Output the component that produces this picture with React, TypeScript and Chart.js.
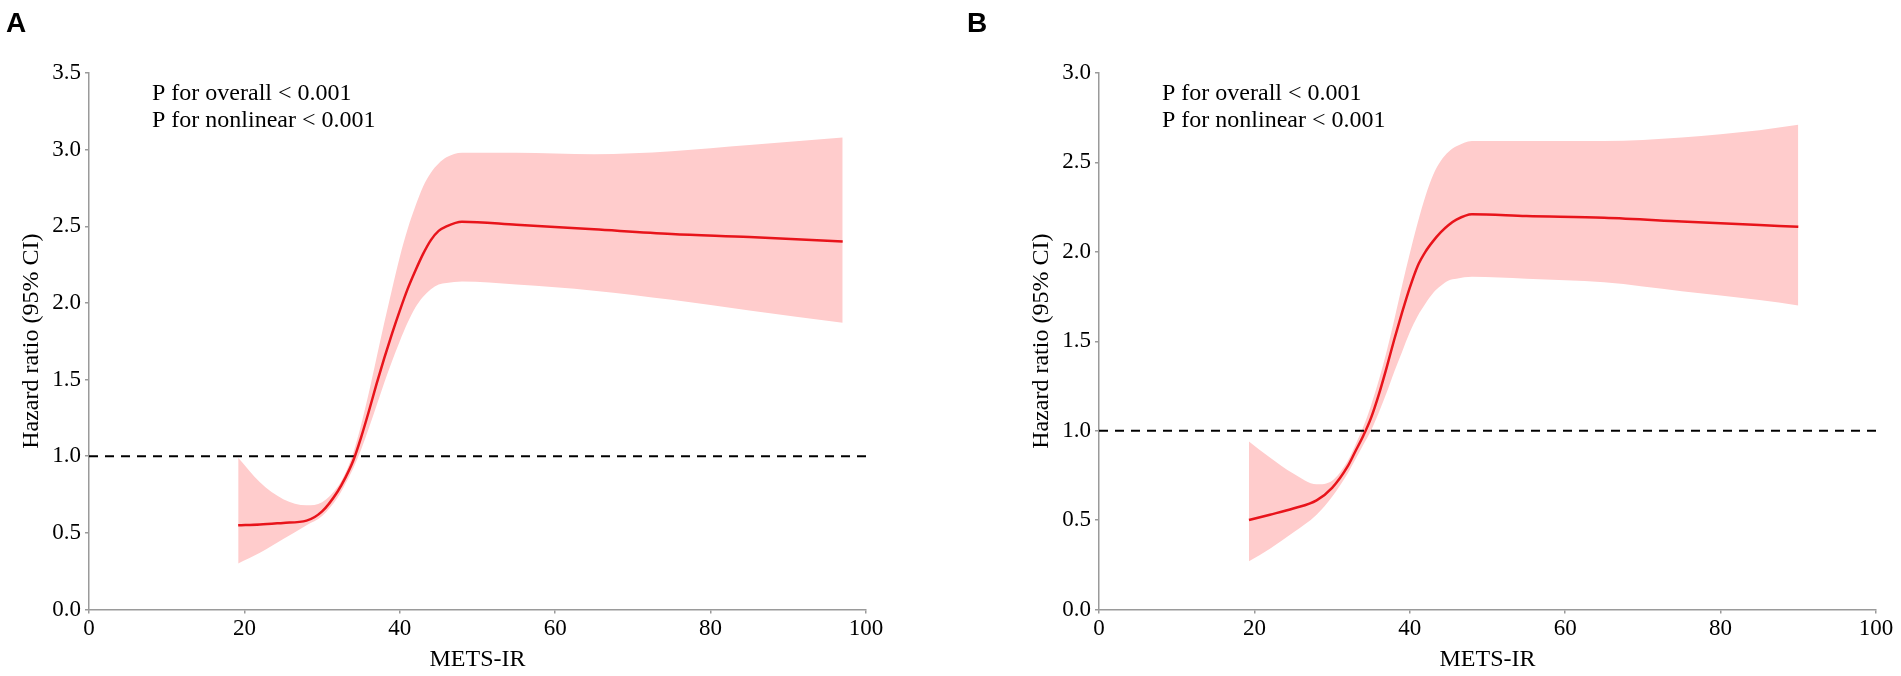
import React, { useEffect, useRef } from 'react';
import { Chart, registerables } from 'chart.js';

Chart.register(...registerables);

// Panel A: restricted cubic spline, METS-IR vs hazard ratio
const xA = [19.2, 22, 25, 28, 30, 32, 33, 34, 35, 36, 37, 38, 39, 40, 41, 42, 43, 44, 45, 46, 48, 55, 65, 75, 85, 97];
const hrA = [0.55, 0.555, 0.565, 0.58, 0.64, 0.77, 0.86, 0.97, 1.12, 1.29, 1.47, 1.64, 1.8, 1.95, 2.09, 2.21, 2.32, 2.41, 2.47, 2.5, 2.53, 2.51, 2.48, 2.45, 2.43, 2.4];
const upperA = [0.99, 0.83, 0.72, 0.68, 0.7, 0.8, 0.89, 1.02, 1.2, 1.41, 1.64, 1.87, 2.09, 2.3, 2.48, 2.63, 2.76, 2.85, 2.91, 2.95, 2.98, 2.98, 2.97, 2.99, 3.03, 3.08];
const lowerA = [0.3, 0.37, 0.46, 0.55, 0.61, 0.73, 0.82, 0.92, 1.04, 1.18, 1.33, 1.48, 1.62, 1.75, 1.87, 1.97, 2.04, 2.09, 2.12, 2.13, 2.14, 2.12, 2.08, 2.02, 1.95, 1.87];

// Panel B
const xB = [19.3, 22, 25, 28, 30, 32, 33, 34, 35, 36, 37, 38, 39, 40, 41, 42, 43, 44, 45, 46, 48, 55, 65, 75, 85, 90];
const hrB = [0.5, 0.53, 0.565, 0.61, 0.68, 0.8, 0.885, 0.97, 1.07, 1.2, 1.35, 1.51, 1.66, 1.8, 1.92, 2.0, 2.06, 2.11, 2.15, 2.18, 2.21, 2.2, 2.19, 2.17, 2.15, 2.14];
const upperB = [0.94, 0.85, 0.76, 0.7, 0.72, 0.83, 0.92, 1.02, 1.14, 1.28, 1.44, 1.62, 1.81, 1.99, 2.16, 2.31, 2.43, 2.51, 2.56, 2.59, 2.62, 2.62, 2.62, 2.64, 2.68, 2.71];
const lowerB = [0.27, 0.34, 0.43, 0.53, 0.63, 0.76, 0.84, 0.92, 1.0, 1.1, 1.21, 1.33, 1.44, 1.55, 1.64, 1.71, 1.77, 1.81, 1.84, 1.85, 1.86, 1.85, 1.83, 1.78, 1.73, 1.7];

const xRange = [0, 100];
const xStep = 20;
const yMaxA = 3.5;
const yMaxB = 3.0;
const yStep = 0.5;
const refHR = 1;

const pLines = ['P for overall < 0.001', 'P for nonlinear < 0.001'];
const xTitle = 'METS-IR';
const yTitle = 'Hazard ratio (95% CI)';

const SERIF = '"Liberation Serif", "Times New Roman", serif';
const RED = '#E8141B';
const PINK = '#FFCCCC';
const AXIS = '#9A9A9A';

interface PanelProps {
  left: number;
  width: number;
  xs: number[];
  hr: number[];
  upper: number[];
  lower: number[];
  yMax: number;
}

const toPts = (xs: number[], ys: number[]) => xs.map((x, i) => ({ x, y: ys[i] }));

const Panel: React.FC<PanelProps> = ({ left, width, xs, hr, upper, lower, yMax }) => {
  const canvasRef = useRef<HTMLCanvasElement>(null);
  const chartRef = useRef<Chart | null>(null);

  useEffect(() => {
    if (!canvasRef.current) return;
    if (chartRef.current) chartRef.current.destroy();

    // writes the two P-value lines in the top-left of the plot
    const pText = {
      id: 'pText',
      afterDraw(chart: any) {
        const { ctx, chartArea } = chart;
        ctx.save();
        ctx.font = `24px ${SERIF}`;
        ctx.fillStyle = '#000';
        ctx.textBaseline = 'alphabetic';
        pLines.forEach((t, i) => ctx.fillText(t, chartArea.left + 63, chartArea.top + 27 + i * 27));
        ctx.restore();
      },
    };

    chartRef.current = new Chart(canvasRef.current, {
      type: 'line',
      data: {
        datasets: [
          {
            label: 'HR',
            data: toPts(xs, hr),
            borderColor: RED,
            borderWidth: 2.5,
            pointRadius: 0,
            cubicInterpolationMode: 'monotone',
            fill: false,
            order: 0,
          },
          {
            label: 'ref',
            data: [{ x: xRange[0], y: refHR }, { x: xRange[1], y: refHR }],
            borderColor: '#000',
            borderWidth: 2,
            borderDash: [9, 7],
            pointRadius: 0,
            fill: false,
            order: 1,
          },
          {
            label: 'upper',
            data: toPts(xs, upper),
            borderWidth: 0,
            borderColor: 'rgba(0,0,0,0)',
            backgroundColor: PINK,
            pointRadius: 0,
            cubicInterpolationMode: 'monotone',
            fill: '+1',
            order: 2,
          },
          {
            label: 'lower',
            data: toPts(xs, lower),
            borderWidth: 0,
            borderColor: 'rgba(0,0,0,0)',
            pointRadius: 0,
            cubicInterpolationMode: 'monotone',
            fill: false,
            order: 3,
          },
        ],
      },
      options: {
        responsive: false,
        animation: false,
        events: [],
        layout: { padding: { left: 0, top: 73, right: width - 89 - 777, bottom: 0 } },
        plugins: { legend: { display: false }, tooltip: { enabled: false } },
        scales: {
          x: {
            type: 'linear',
            min: xRange[0],
            max: xRange[1],
            afterFit: (s: any) => { s.height = 66.5; },
            ticks: { stepSize: xStep, color: '#000', font: { family: SERIF, size: 23 }, padding: 2, maxRotation: 0 },
            grid: { drawOnChartArea: false, drawTicks: true, tickLength: 4, color: AXIS, lineWidth: 1.5 },
            border: { display: true, color: AXIS, width: 1.5 },
            title: { display: true, text: xTitle, color: '#000', font: { family: SERIF, size: 24 }, padding: { top: 0, bottom: 2 } },
          },
          y: {
            type: 'linear',
            min: 0,
            max: yMax,
            afterFit: (s: any) => { s.width = 89; },
            ticks: {
              stepSize: yStep,
              color: '#000',
              font: { family: SERIF, size: 23 },
              padding: 4,
              callback: (v: any) => Number(v).toFixed(1),
            },
            grid: { drawOnChartArea: false, drawTicks: true, tickLength: 4, color: AXIS, lineWidth: 1.5 },
            border: { display: true, color: AXIS, width: 1.5 },
            title: { display: true, text: yTitle, color: '#000', font: { family: SERIF, size: 24 }, padding: { top: 17, bottom: 0 } },
          },
        },
      },
      plugins: [pText],
    } as any);

    return () => {
      if (chartRef.current) {
        chartRef.current.destroy();
        chartRef.current = null;
      }
    };
  }, [left, width, xs, hr, upper, lower, yMax]);

  return (
    <canvas
      ref={canvasRef}
      width={width}
      height={676}
      style={{ position: 'absolute', left, top: 0, width, height: 676 }}
    />
  );
};

const letterStyle: React.CSSProperties = {
  position: 'absolute',
  top: 9,
  fontFamily: '"Liberation Sans", Arial, sans-serif',
  fontWeight: 'bold',
  fontSize: 28,
  lineHeight: '28px',
  color: '#000',
};

export default function App() {
  return (
    <div style={{ position: 'fixed', left: 0, top: 0, width: 1901, height: 676, background: '#fff', overflow: 'hidden' }}>
      <Panel left={0} width={1010} xs={xA} hr={hrA} upper={upperA} lower={lowerA} yMax={yMaxA} />
      <Panel left={1010} width={891} xs={xB} hr={hrB} upper={upperB} lower={lowerB} yMax={yMaxB} />
      <div style={{ ...letterStyle, left: 6 }}>A</div>
      <div style={{ ...letterStyle, left: 967 }}>B</div>
    </div>
  );
}
